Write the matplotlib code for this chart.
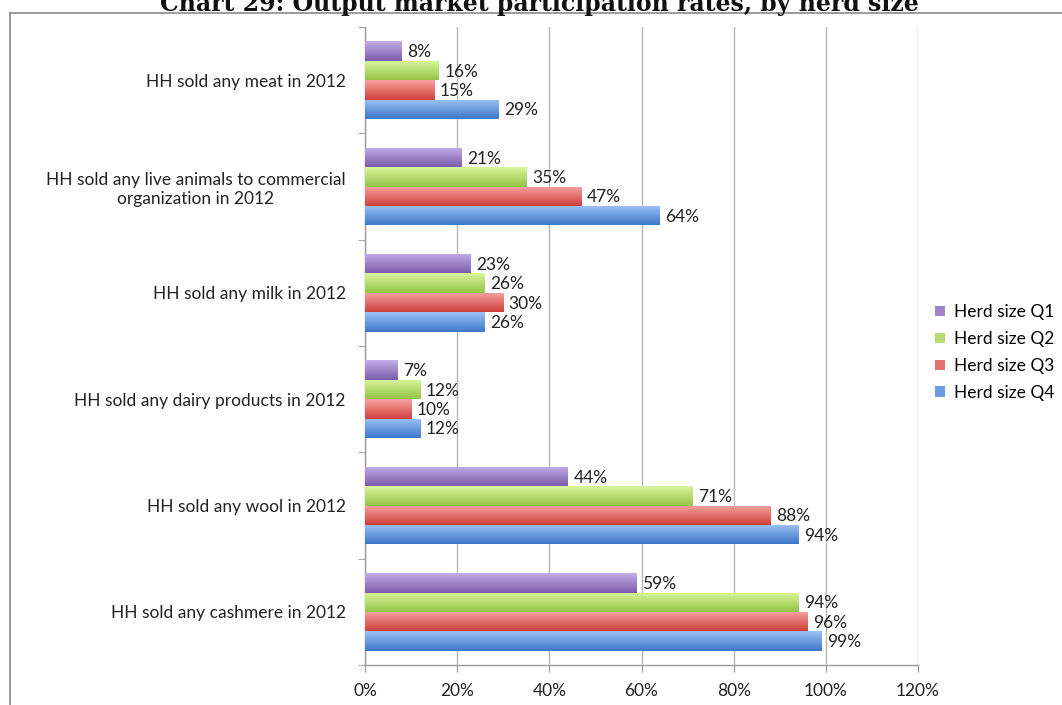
import numpy as np
import matplotlib
matplotlib.use("Agg")
import matplotlib.pyplot as plt
from matplotlib.colors import LinearSegmentedColormap, to_rgb, to_hex
from matplotlib.lines import Line2D
from matplotlib.patches import Patch

plt.rcParams['font.family'] = ['Lato', 'DejaVu Sans']

categories = [
    "HH sold any meat in 2012",
    "HH sold any live animals to commercial\norganization in 2012",
    "HH sold any milk in 2012",
    "HH sold any dairy products in 2012",
    "HH sold any wool in 2012",
    "HH sold any cashmere in 2012",
]
series_names = ["Herd size Q1", "Herd size Q2", "Herd size Q3", "Herd size Q4"]
q1 = [8, 21, 23, 7, 44, 59]
q2 = [16, 35, 26, 12, 71, 94]
q3 = [15, 47, 30, 10, 88, 96]
q4 = [29, 64, 26, 12, 94, 99]
x_ticks = [0, 20, 40, 60, 80, 100, 120]

# (light top, dark bottom) per series
shades = [
    ("#c3aee8", "#7b5cab"),
    ("#d8f59c", "#94c447"),
    ("#f7a3a1", "#d03f3c"),
    ("#9cc1f4", "#3f78cb"),
]
FS = 12.5
TXT = "#222222"

fig = plt.figure(figsize=(10.62, 7.05), dpi=100)
ax = fig.add_axes([0.3437, 0.0567, 0.5207, 0.905])

n_cat = len(categories)
bar_h = 0.182
all_vals = [q1, q2, q3, q4]
for s, vals in enumerate(all_vals):
    cmap = LinearSegmentedColormap.from_list("g%d" % s, [shades[s][0], shades[s][1]])
    for i, v in enumerate(vals):
        # category 0 drawn at the top
        yc = (n_cat - 1 - i) + (1.5 - s) * bar_h
        bars = ax.barh(yc, v, height=bar_h, color=shades[s][1], edgecolor="none", zorder=3)
        grad = np.linspace(0, 1, 64).reshape(-1, 1)
        im = ax.imshow(grad, cmap=cmap, aspect="auto", origin="upper",
                       extent=[0, v, yc - bar_h / 2, yc + bar_h / 2], zorder=4)
        im.set_clip_path(bars[0])
        ax.text(v + 1.2, yc - 0.01, "%d%%" % v, va="center", ha="left",
                fontsize=FS, color=TXT, zorder=5)

ax.set_xlim(0, 120)
ax.set_ylim(-0.5, n_cat - 0.5)
ax.set_xticks(x_ticks)
ax.set_xticklabels(["%d%%" % t for t in x_ticks], fontsize=FS, color=TXT)
ax.set_yticks([n_cat - 1 - i for i in range(n_cat)])
ax.set_yticklabels(categories, fontsize=FS, color=TXT, ha="right",
                   multialignment="center")
ax.tick_params(axis="y", length=0, pad=14)
ax.tick_params(axis="x", length=5, color="#9a9a9a", pad=8, direction="out")
ax.set_yticks(np.arange(-0.5, n_cat, 1.0), minor=True)
ax.tick_params(axis="y", which="minor", length=5, color="#9a9a9a")
ax.xaxis.grid(True, color="#b8b8b8", linewidth=1.0, zorder=0)
ax.set_axisbelow(True)
for side in ("top", "right"):
    ax.spines[side].set_visible(False)
for side in ("left", "bottom"):
    ax.spines[side].set_color("#9a9a9a")
    ax.spines[side].set_linewidth(1.0)

handles = []
for s in range(4):
    mid = np.mean([to_rgb(c) for c in shades[s]], axis=0)
    handles.append(Patch(facecolor=to_hex(mid), edgecolor="none"))
fig.legend(handles, series_names, loc="center left", bbox_to_anchor=(0.866, 0.5),
           frameon=False, fontsize=FS, handlelength=0.55, handleheight=0.55,
           handletextpad=0.5, labelspacing=0.62)

# outer chart frame
frame_y = 1 - 12.5 / 705
fig.add_artist(Line2D([10 / 1062, 1.0], [frame_y, frame_y],
                      transform=fig.transFigure, color="#8a8a8a", linewidth=1.2))
fig.add_artist(Line2D([10 / 1062, 10 / 1062], [0, frame_y],
                      transform=fig.transFigure, color="#8a8a8a", linewidth=1.2))

fig.text(539 / 1062, 1 - 11.5 / 705,
         "Chart 29: Output market participation rates, by herd size",
         ha="center", va="baseline", fontsize=17, fontweight="bold",
         family=["DejaVu Serif"], color="#111111")

fig.savefig("out.png", dpi=100)
